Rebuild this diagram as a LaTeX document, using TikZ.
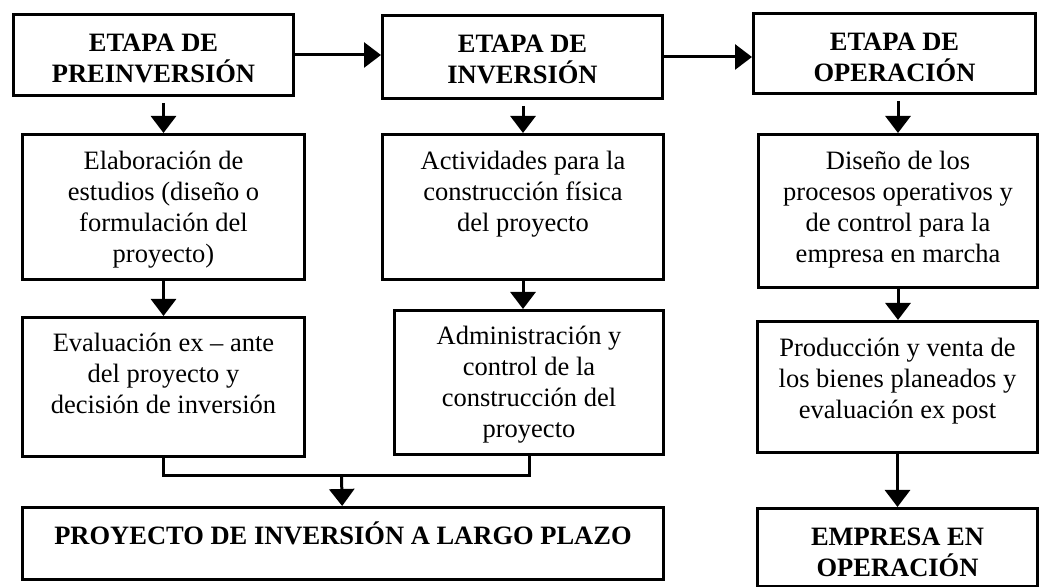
\documentclass[tikz,border=0pt]{standalone}
\usepackage{fontspec}
\setmainfont{Liberation Serif}
\usetikzlibrary{arrows.meta}

% box text: width, height, first line height, text
\newcommand{\boxtext}[4]{\parbox[t][#2][t]{#1}{\centering\rule{0pt}{#3}#4}}

\begin{document}
\begin{tikzpicture}[x=0.5pt,y=-0.5pt,line width=1.5pt,>={Triangle[length=8.5pt,width=12.5pt]},every node/.style={shape=rectangle,draw,inner sep=0pt,anchor=north west,font=\fontsize{13.25}{15.5}\selectfont},stagebox/.style={font=\fontsize{13.25}{15.5}\selectfont\bfseries},]
	\useasboundingbox (0,0) rectangle (1039,587);

	% create stages
	\node (pre) [stagebox] at (12,13) {\boxtext{140pt}{40.5pt}{18.5pt}{ETAPA DE\\PREINVERSIÓN}};
	\node (inv) [stagebox] at (381,14) {\boxtext{140pt}{41.5pt}{18.5pt}{ETAPA DE\\INVERSIÓN}};
	\node (ope) [stagebox] at (752,12) {\boxtext{141pt}{40pt}{18.5pt}{ETAPA DE\\OPERACIÓN}};

	% create activities
	\node (elab) at (21,133) {\boxtext{141pt}{72.5pt}{17.5pt}{Elaboración de\\estudios (diseño o\\formulación del\\proyecto)}};
	\node (eval) at (21,316) {\boxtext{141pt}{69.5pt}{17pt}{Evaluación ex – ante\\del proyecto y\\decisión de inversión}};
	\node (act) at (381,133) {\boxtext{140.5pt}{72.5pt}{17.5pt}{Actividades para la\\construcción física\\del proyecto}};
	\node (adm) at (393,309) {\boxtext{134.5pt}{72pt}{17pt}{Administración y\\control de la\\construcción del\\proyecto}};
	\node (dis) at (757,133) {\boxtext{139.5pt}{76.5pt}{17.5pt}{Diseño de los\\procesos operativos y\\de control para la\\empresa en marcha}};
	\node (prod) at (756,320) {\boxtext{140pt}{65.5pt}{17.5pt}{Producción y venta de\\los bienes planeados y\\evaluación ex post}};

	% create results
	\node (proy) [stagebox] at (21,506) {\boxtext{320.5pt}{36pt}{18.5pt}{PROYECTO DE INVERSIÓN A LARGO PLAZO}};
	\node (emp) [stagebox] at (756,507) {\boxtext{140pt}{39pt}{18.5pt}{EMPRESA EN\\OPERACIÓN}};

	\coordinate (join) at (341.5,476);

	% stage to stage
	\draw[->] (pre.east) -- (pre.east -| inv.west);
	\draw[->] (inv.east) -- (inv.east -| ope.west);

	% stage to activities
	\draw[->,shorten <=3pt] (pre.south -| elab.north) -- (elab.north);
	\draw[->,shorten <=3pt] (inv.south -| act.north) -- (act.north);
	\draw[->,shorten <=3pt] (ope.south -| dis.north) -- (dis.north);
	\draw[->] (elab) -- (eval);
	\draw[->] (act.south) -- (act.south |- adm.north);
	\draw[->] (dis.south) -- (dis.south |- prod.north);
	\draw[->] (prod.south) -- (prod.south |- emp.north);

	% activities to results
	\draw (eval.south) |- (join) -| (adm.south);
	\draw[->] (join) -- (proy);

\end{tikzpicture}
\end{document}
